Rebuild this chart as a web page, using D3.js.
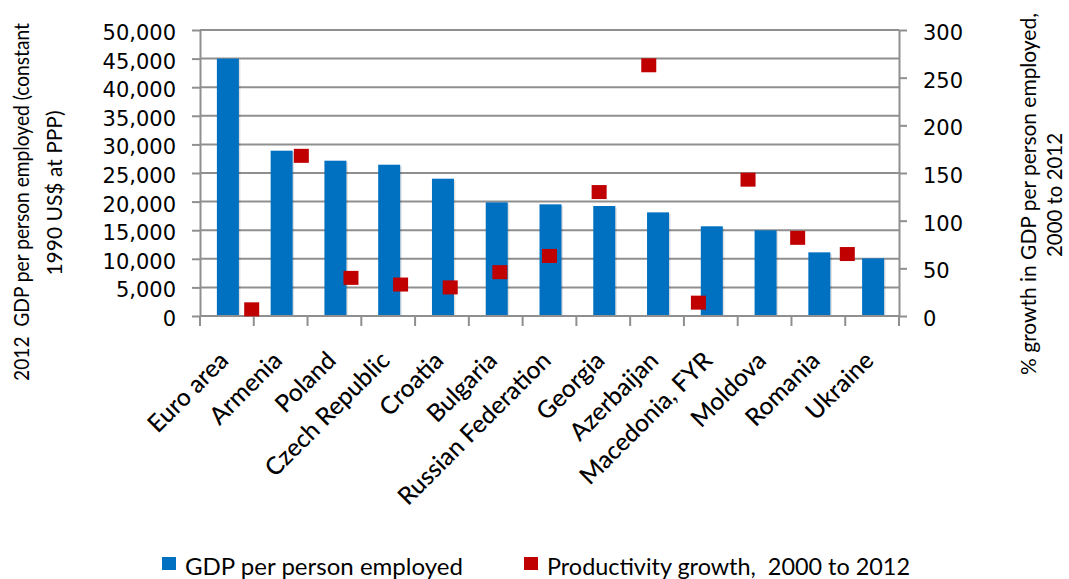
<!DOCTYPE html>
<html>
<head>
<meta charset="utf-8">
<script src="https://cdn.jsdelivr.net/npm/d3@7"></script>
<style>
  html, body { margin: 0; padding: 0; background: #fff; }
  svg { display: block; }
  text { white-space: pre; }
</style>
</head>
<body>
<svg id="chart" width="1069" height="579"></svg>
<script>
// ---- Data ----
const categories = ["Euro area", "Armenia", "Poland", "Czech Republic", "Croatia", "Bulgaria",
  "Russian Federation", "Georgia", "Azerbaijan", "Macedonia, FYR", "Moldova", "Romania", "Ukraine"];
const gdpPerPersonEmployed = [45000, 28900, 27150, 26450, 24000, 19870, 19520, 19230, 18120, 15680, 14980, 11130, 10080];
const productivityGrowth = [7, 168, 40, 33, 30, 46, 63, 130, 263, 14, 143, 82, 65];
const leftTickValues = [0, 5000, 10000, 15000, 20000, 25000, 30000, 35000, 40000, 45000, 50000];
const rightTickValues = [0, 50, 100, 150, 200, 250, 300];
const seriesNames = ["GDP per person employed", "Productivity growth,  2000 to 2012"];
const leftTitle = ["2012  GDP per person employed (constant", "1990 US$ at PPP)"];
const rightTitle = ["% growth in GDP per person employed,", "2000 to 2012"];

// ---- Layout ----
const plot = { left: 200, right: 899, top: 30, bottom: 316 };
const blue = "#0070C0", red = "#C00000", gridColor = "#8f8f8f";
const labelFont = "Lato, 'Open Sans', sans-serif";
const tickFont = "'DejaVu Sans', sans-serif";

const svg = d3.select("#chart");

const x = d3.scaleBand().domain(categories).range([plot.left, plot.right]);
const bw = x.bandwidth();
const x2 = d3.scaleBand().domain(categories)
  .range([x(categories[0]) + bw / 2, x(categories[categories.length - 1]) + bw / 2]);
const yL = d3.scaleLinear().domain([0, 50000]).range([plot.bottom, plot.top]);
const yR = d3.scaleLinear().domain([0, 300]).range([plot.bottom, plot.top]);

// gridlines
svg.append("g").selectAll("line").data(leftTickValues).join("line")
  .attr("x1", plot.left).attr("x2", plot.right)
  .attr("y1", d => yL(d)).attr("y2", d => yL(d))
  .attr("stroke", gridColor).attr("stroke-width", 2);

// bar shadows + bars
const barW = 22;
svg.append("g").selectAll("rect").data(categories).join("rect")
  .attr("x", (d) => x(d) + bw / 2 - barW / 2 + 2.5)
  .attr("width", barW)
  .attr("y", (d, i) => yL(gdpPerPersonEmployed[i]) + 1.5)
  .attr("height", (d, i) => yL(0) - yL(gdpPerPersonEmployed[i]) - 1.5)
  .attr("fill", "#000").attr("opacity", 0.12);
svg.append("g").selectAll("rect").data(categories).join("rect")
  .attr("x", (d) => x(d) + bw / 2 - barW / 2 + 1)
  .attr("width", barW)
  .attr("y", (d, i) => yL(gdpPerPersonEmployed[i]))
  .attr("height", (d, i) => yL(0) - yL(gdpPerPersonEmployed[i]))
  .attr("fill", blue);

// zero line (x axis)
svg.append("line").attr("x1", plot.left).attr("x2", plot.right)
  .attr("y1", yL(0)).attr("y2", yL(0)).attr("stroke", gridColor).attr("stroke-width", 2);

// category ticks at band boundaries
const boundaries = categories.map(c => x(c)).concat([x(categories[categories.length - 1]) + bw]);
svg.append("g").selectAll("line").data(boundaries).join("line")
  .attr("x1", d => d).attr("x2", d => d)
  .attr("y1", yL(0)).attr("y2", yL(0) + 10)
  .attr("stroke", gridColor).attr("stroke-width", 2);

// left axis
const gL = svg.append("g").attr("transform", `translate(${plot.left},0)`)
  .call(d3.axisLeft(yL).tickValues(leftTickValues).tickFormat(d3.format(",")).tickSize(8).tickSizeOuter(0).tickPadding(16));
gL.select(".domain").attr("stroke", gridColor).attr("stroke-width", 2);
gL.selectAll(".tick line").attr("stroke", gridColor).attr("stroke-width", 2);
gL.selectAll(".tick text").attr("font-family", tickFont).attr("font-size", 21).attr("fill", "#000").attr("dy", "0.45em");

// right axis
const gR = svg.append("g").attr("transform", `translate(${plot.right},0)`)
  .call(d3.axisRight(yR).tickValues(rightTickValues).tickSize(8).tickSizeOuter(0).tickPadding(16));
gR.select(".domain").attr("stroke", gridColor).attr("stroke-width", 2);
gR.selectAll(".tick line").attr("stroke", gridColor).attr("stroke-width", 2);
gR.selectAll(".tick text").attr("font-family", tickFont).attr("font-size", 21).attr("fill", "#000").attr("dy", "0.45em");

// markers
const mW = 15, mH = 14;
svg.append("g").selectAll("rect").data(categories).join("rect")
  .attr("x", d => x2(d) + x2.bandwidth() / 2 - mW / 2)
  .attr("y", (d, i) => yR(productivityGrowth[i]) - mH / 2)
  .attr("width", mW).attr("height", mH)
  .attr("fill", red);

// category labels
svg.append("g").selectAll("text").data(categories).join("text")
  .attr("transform", d => `translate(${x(d) + bw / 2 + 3},${362}) rotate(-45)`)
  .attr("text-anchor", "end")
  .attr("font-family", labelFont).attr("font-size", 24.5).attr("font-weight", 500).attr("fill", "#000")
  .text(d => d);

// axis titles: fitted to a target length by horizontal scaling of the text
function fittedText(parent, str, cx, cy, size, target, rotate) {
  const t = parent.append("text")
    .attr("text-anchor", "middle").attr("font-family", labelFont).attr("font-size", size)
    .attr("fill", "#000").text(str);
  const natural = t.node().getComputedTextLength();
  const k = Math.min(1, target / natural);
  t.attr("transform", `translate(${cx},${cy}) rotate(${rotate}) scale(${k},1)`);
  return t;
}
const lt = svg.append("g");
fittedText(lt, leftTitle[0], 29, 202, 21, 358, -90);
fittedText(lt, leftTitle[1], 62, 193, 21, 166, -90);
const rt = svg.append("g");
fittedText(rt, rightTitle[0], 1036, 194, 22, 362, -90);
fittedText(rt, rightTitle[1], 1062, 195, 22, 124, -90);

// legend
const legendItems = [
  { name: seriesNames[0], color: blue, sx: 162, tx: 185, len: 278 },
  { name: seriesNames[1], color: red, sx: 524, tx: 547, len: 363 }
];
const lg = svg.append("g");
lg.selectAll("rect").data(legendItems).join("rect")
  .attr("x", d => d.sx).attr("y", 557).attr("width", 14).attr("height", 13)
  .attr("fill", d => d.color);
lg.selectAll("text").data(legendItems).join("text")
  .attr("x", d => d.tx).attr("y", 575)
  .attr("font-family", labelFont).attr("font-size", 23.5).attr("fill", "#000")
  .attr("textLength", d => d.len).attr("lengthAdjust", "spacingAndGlyphs")
  .text(d => d.name);
</script>
</body>
</html>
